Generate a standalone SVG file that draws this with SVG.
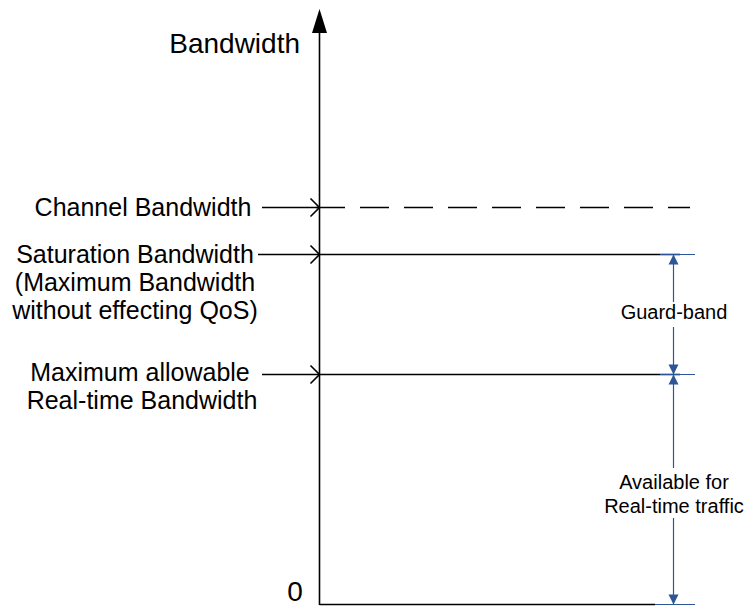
<svg xmlns="http://www.w3.org/2000/svg" width="747" height="608" viewBox="0 0 747 608">
<style>
  .lbl { font-family: "Liberation Sans", Arial, sans-serif; font-size: 25px; fill: #000; }
  .big { font-family: "Liberation Sans", Arial, sans-serif; font-size: 28px; fill: #000; }
  .dim { font-family: "Liberation Sans", Arial, sans-serif; font-size: 20px; fill: #000; text-anchor: middle; }
  .blk { stroke: #000; stroke-width: 1.6; fill: none; }
  .blu { stroke: #2E5597; stroke-width: 1.2; fill: none; }
  .ptr { stroke: #000; stroke-width: 1.6; fill: none; marker-end: url(#open); }
  .dimln { stroke: #2E5597; stroke-width: 1.2; fill: none; marker-end: url(#tri); }
</style>
<defs>
  <marker id="open" markerUnits="userSpaceOnUse" markerWidth="12" markerHeight="20" refX="9" refY="9" orient="auto" overflow="visible">
    <path d="M0,0 L9,9 L0,18" fill="none" stroke="#000" stroke-width="1.6"/>
  </marker>
  <marker id="tri" markerUnits="userSpaceOnUse" markerWidth="10" markerHeight="10" refX="10" refY="5" orient="auto" overflow="visible">
    <path d="M0,0 L10,5 L0,10 z" fill="#2E5597"/>
  </marker>
</defs>
<rect width="747" height="608" fill="#fff"/>

<g id="axis">
  <line class="blk" x1="319.5" y1="30" x2="319.5" y2="605" stroke-width="2"/>
  <polygon points="319.5,9 312,33 327,33" fill="#000"/>
  <line class="blk" x1="319.5" y1="604.5" x2="655" y2="604.5"/>
  <line class="blu" x1="655" y1="604.5" x2="695" y2="604.5"/>
  <text class="big" x="300" y="53" text-anchor="end">Bandwidth</text>
  <text class="big" x="295" y="601" text-anchor="middle" font-size="27">0</text>
</g>

<g id="channel-level">
  <line class="blk" x1="316" y1="207.5" x2="690" y2="207.5" stroke-dasharray="29 15"/>
  <text class="lbl" x="143" y="216" text-anchor="middle">Channel Bandwidth</text>
</g>

<g id="saturation-level">
  <line class="blk" x1="319.5" y1="254.5" x2="680" y2="254.5"/>
  <line class="blu" x1="660" y1="254.5" x2="695" y2="254.5"/>
  <text class="lbl" text-anchor="middle"><tspan x="135" y="263">Saturation Bandwidth</tspan><tspan x="135" y="291">(Maximum Bandwidth</tspan><tspan x="135" y="319">without effecting QoS)</tspan></text>
</g>

<g id="realtime-level">
  <line class="blk" x1="319.5" y1="374.5" x2="680" y2="374.5"/>
  <line class="blu" x1="660" y1="374.5" x2="695" y2="374.5"/>
  <text class="lbl" text-anchor="middle"><tspan x="140" y="381">Maximum allowable</tspan><tspan x="142" y="409">Real-time Bandwidth</tspan></text>
</g>

<g id="guard-band">
  <text class="dim" x="674" y="319">Guard-band</text>
</g>

<g id="available-realtime">
  <text class="dim"><tspan x="674" y="489">Available for</tspan><tspan x="674" y="513">Real-time traffic</tspan></text>
</g>

<g id="connectors">
  <line class="ptr" x1="262" y1="207.5" x2="319.5" y2="207.5"/>
  <line class="ptr" x1="258" y1="254.5" x2="319.5" y2="254.5"/>
  <line class="ptr" x1="262" y1="374.5" x2="319.5" y2="374.5"/>
  <line class="dimln" x1="673.5" y1="302" x2="673.5" y2="254.5"/>
  <line class="dimln" x1="673.5" y1="327" x2="673.5" y2="374.5"/>
  <line class="dimln" x1="673.5" y1="468" x2="673.5" y2="374.5"/>
  <line class="dimln" x1="673.5" y1="518" x2="673.5" y2="604.5"/>
</g>
</svg>
